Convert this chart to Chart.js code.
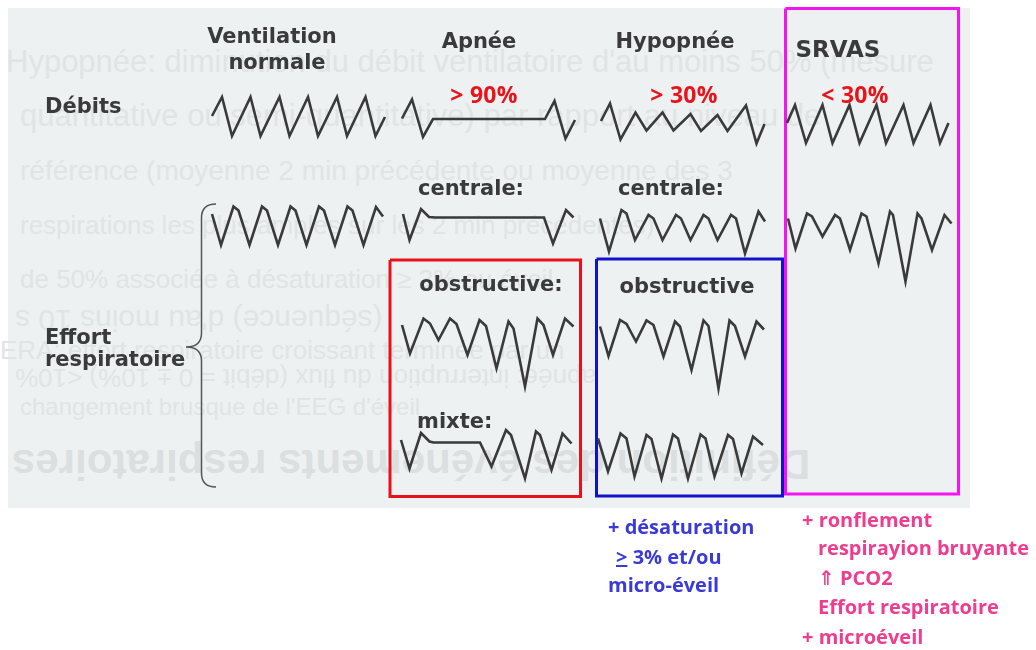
<!DOCTYPE html>
<html>
<head>
<meta charset="utf-8">
<script src="https://cdn.jsdelivr.net/npm/chart.js@4"></script>
<style>
body { margin: 0; background: #fff; width: 1036px; height: 650px; overflow: hidden; position: relative; }
#panel { position: absolute; left: 8px; top: 8px; width: 962px; height: 500px; background: #eef1f1; }
.ghost { position: absolute; color: #e1e4e4; font-family: "Liberation Sans", Arial, sans-serif; white-space: nowrap; line-height: 1; }
.lbl { position: absolute; white-space: nowrap; line-height: 1; }
.head { font: bold 21px "DejaVu Sans", sans-serif; color: #3a3a3a; }
.pct { font: bold 23px "Open Sans", sans-serif; color: #e8141c; letter-spacing: 0.3px; }
.blue { font: bold 20px "Open Sans", sans-serif; color: #3a3ad8; }
.pink { font: bold 20px "Open Sans", sans-serif; color: #ee3d8f; }
canvas { position: absolute; left: 0; top: 0; }
</style>
</head>
<body>
<div id="panel"></div>
<div id="ghosts"></div>
<canvas id="chart" width="1036" height="650"></canvas>
<div id="labels"></div>
<script>
// courbes : t = temps le long du tracé, v = amplitude (au-dessus de la ligne de base)
const flowNormalT = [1, 11, 21, 39.5, 49.5, 68.5, 78.5, 97, 107, 126, 136, 154.5, 164.5, 174];
const flowNormalV = [0, 19, -20, 19, -20, 19, -20, 19, -20, 19, -20, 19, -20, -1];

const flowApneaT = [0, 10, 21, 31, 143, 152.5, 163.5, 173];
const flowApneaV = [0.5, 19.5, -18, 0, 0, 18, -19.5, -1];

const flowHypoT = [0, 9, 19.5, 34.5, 45.5, 61.5, 72.5, 89.5, 100, 116.5, 126.5, 145, 155.5, 163.5];
const flowHypoV = [0, 17.5, -18.5, 8.5, -9.5, 8.5, -9.5, 7, -10, 6, -10, 15.5, -22.5, -3];

const flowSrvasT = [0, 8, 19, 35.5, 45.5, 62.5, 72.5, 89.5, 99, 116.5, 126.5, 143.5, 153, 161.5];
const flowSrvasV = [0, 18, -20, 18, -20, 18, -20, 18, -20, 18, -20, 18, -20, 0];

const effortNormalT = [0, 9, 21.5, 26.5, 37.5, 50, 55, 66, 78.5, 83.5, 94.5, 107, 112, 123, 135.5, 140.5, 151.5, 164, 171];
const effortNormalV = [12, -19, 19.5, 15.5, -19, 19.5, 15.5, -19, 19.5, 15.5, -19, 19.5, 15.5, -19, 19.5, 15.5, -19, 19, 9.5];

const effortApneaCentralT = [0, 6.5, 18, 26, 32, 141, 150, 163, 170.5];
const effortApneaCentralV = [3, -23, 8, 0, -0.5, -0.5, -26.5, 7, -0.5];

const effortHypoCentralT = [0, 9, 21.5, 26.5, 35, 48.5, 53.5, 62.5, 76, 81, 90.5, 103.5, 108.5, 117.5, 131, 136, 145, 158.5, 165];
const effortHypoCentralV = [6.5, -26.5, 15, 11.5, -15, 10, 6.5, -15, 10, 6.5, -15, 10, 6.5, -15, 10, 6.5, -28.5, 13.5, 3.5];

const effortSrvasT = [0, 7.5, 19, 24, 34.5, 47, 52, 62, 73.5, 78.5, 90.5, 102, 105, 117.5, 129.5, 133.5, 144, 156.5, 163.5];
const effortSrvasV = [6.5, -23.5, 11.5, 8.5, -11.5, 10, 6.5, -25, 11.5, 8.5, -38.5, 13.5, 10, -56.5, 11.5, 6.5, -25, 10, 1.5];

const effortApneaObstrT = [0, 8, 21.5, 28, 36.5, 48, 54.5, 65.5, 77.5, 84, 94.5, 106.5, 111.5, 123, 135.5, 141.5, 151, 163, 171.5];
const effortApneaObstrV = [8, -20.5, 14.5, 9.5, -7, 14.5, 9, -22, 13, 7, -35.5, 11.5, 4.5, -53.5, 14.5, 8, -22, 14.5, 6.5];

const effortApneaMixedT = [0, 8.5, 20, 28.5, 32.5, 79, 90.5, 105, 110, 124, 135, 139, 150.5, 161.5, 170.5];
const effortApneaMixedV = [3, -25.5, 10, 1.5, 0.5, 0.5, -23.5, 13, 8, -35.5, 11.5, 8, -27, 9.5, -0.5];

const effortHypoObstrT = [0, 8.5, 20, 26.5, 36, 46.5, 53.5, 63.5, 75, 80, 91.5, 103.5, 108.5, 118.5, 129.5, 135, 145, 156.5, 164];
const effortHypoObstrV = [6.5, -23, 13, 9, -8.5, 12.5, 8, -23.5, 11.5, 6.5, -37, 12.5, 7, -55.5, 12.5, 7, -23.5, 11.5, 3.5];

const effortHypoObstr2T = [0, 10, 22.5, 28.5, 36.5, 48.5, 53.5, 63.5, 75, 80, 90, 102.5, 107.5, 116.5, 130, 135, 143.5, 155, 165];
const effortHypoObstr2V = [16.5, -16.5, 21.5, 16.5, -21.5, 20, 16, -23.5, 20.5, 16.5, -23.5, 20.5, 16.5, -21.5, 20, 16, -18.5, 18.5, 10];

// placement des tracés (origine en pixels de page)
const traces = [
  { t: flowNormalT, v: flowNormalV, at: [211, 116] },
  { t: flowApneaT, v: flowApneaV, at: [402, 119] },
  { t: flowHypoT, v: flowHypoV, at: [601, 121] },
  { t: flowSrvasT, v: flowSrvasV, at: [787, 123] },
  { t: effortNormalT, v: effortNormalV, at: [212, 226] },
  { t: effortApneaCentralT, v: effortApneaCentralV, at: [403, 217] },
  { t: effortHypoCentralT, v: effortHypoCentralV, at: [600, 225] },
  { t: effortSrvasT, v: effortSrvasV, at: [788, 225] },
  { t: effortApneaObstrT, v: effortApneaObstrV, at: [402, 333] },
  { t: effortApneaMixedT, v: effortApneaMixedV, at: [401, 443] },
  { t: effortHypoObstrT, v: effortHypoObstrV, at: [600, 333] },
  { t: effortHypoObstr2T, v: effortHypoObstr2V, at: [598, 455] }
];

// cadres : [gauche, haut, droite, bas, couleur]
const frames = [
  [390, 260, 580.5, 496.5, '#e8101a'],
  [596.5, 259, 782.5, 496, '#1212c8'],
  [785.5, 8.5, 958.5, 494, '#f514f0']
];

const labels = [
  ['Ventilation', 272, 42, 'c', 'head'],
  ['normale', 277, 68, 'c', 'head'],
  ['Apnée', 479, 47, 'c', 'head'],
  ['Hypopnée', 675, 47, 'c', 'head'],
  ['SRVAS', 838, 55, 'c', 'head big'],
  ['Débits', 45, 112, 'l', 'head'],
  ['> 90%', 484, 99, 'c', 'pct'],
  ['> 30%', 684, 99, 'c', 'pct'],
  ['< 30%', 855, 99, 'c', 'pct'],
  ['centrale:', 471, 194, 'c', 'head'],
  ['centrale:', 671, 194, 'c', 'head'],
  ['obstructive:', 491, 290, 'c', 'head'],
  ['obstructive', 687, 292, 'c', 'head'],
  ['mixte:', 417, 427, 'l', 'head'],
  ['Effort', 45, 343, 'l', 'head'],
  ['respiratoire', 45, 365, 'l', 'head'],
  ['+ désaturation', 608, 532, 'l', 'blue'],
  ['<u>&gt;</u> 3% et/ou', 616, 562, 'l', 'blue'],
  ['micro-éveil', 608, 590, 'l', 'blue'],
  ['+ ronflement', 802, 525, 'l', 'pink'],
  ['respirayion bruyante', 818, 553, 'l', 'pink'],
  ['<span style="font-family:\'DejaVu Sans\'">&#8657;</span> PCO2', 818, 583, 'l', 'pink'],
  ['Effort respiratoire', 818, 612, 'l', 'pink'],
  ['+ microéveil', 802, 642, 'l', 'pink']
];

// texte du verso visible par transparence
const ghosts = [
  ["Hypopnée: diminution du débit ventilatoire d'au moins 50% (mesure", 6, 46, 31, false, false],
  ["quantitative ou semi-quantitative) par rapport au niveau de", 20, 100, 31, false, false],
  ["référence (moyenne 2 min précédente ou moyenne des 3", 20, 157, 28, false, false],
  ["respirations les plus amples sur les 2 min précédentes)", 20, 212, 26, false, false],
  ["de 50% associée à désaturation ≥ 3% ou éveil", 20, 266, 26, false, false],
  ["(séquence) d'au moins 10 s", 15, 305, 30, true, false],
  ["ERA: effort respiratoire croissant terminée par un", 0, 337, 26, false, false],
  ["apnée: interruption du flux (débit = 0 ± 10%) <10%", 15, 365, 26, true, false],
  ["changement brusque de l'EEG d'éveil", 20, 395, 24, false, false],
  ["Définition des événements respiratoires", 12, 443, 42, true, true]
];

const ghostBox = document.getElementById('ghosts');
ghosts.forEach(([txt, x, y, size, flipped, bold]) => {
  const d = document.createElement('div');
  d.className = 'ghost';
  d.textContent = txt;
  d.style.left = x + 'px';
  d.style.top = y + 'px';
  d.style.fontSize = size + 'px';
  if (bold) { d.style.fontWeight = 'bold'; d.style.color = '#dcdfdf'; }
  if (flipped) { d.style.transform = 'rotate(180deg)'; d.style.transformOrigin = '50% 50%'; }
  ghostBox.appendChild(d);
});

const lblBox = document.getElementById('labels');
labels.forEach(([html, x, base, align, cls]) => {
  const d = document.createElement('div');
  d.className = 'lbl ' + cls;
  d.innerHTML = html;
  const big = cls.indexOf('big') >= 0;
  if (big) d.style.fontSize = '23px';
  let fs = 20;
  if (cls.indexOf('head') >= 0) fs = big ? 23 : 21;
  if (cls === 'pct') fs = 23;
  const off = cls.indexOf('head') >= 0 ? 0.846 : 0.93;
  d.style.top = (base - off * fs) + 'px';
  d.style.left = x + 'px';
  if (align === 'c') d.style.transform = 'translateX(-50%)';
  lblBox.appendChild(d);
});

const datasets = traces.map(tr => ({
  data: tr.t.map((ti, i) => ({ x: tr.at[0] + ti, y: tr.at[1] - tr.v[i] })),
  borderColor: '#3a3a3a',
  borderWidth: 2.6,
  borderJoinStyle: 'miter',
  pointRadius: 0,
  tension: 0,
  fill: false
}));

frames.forEach(([l, t, r, b, col]) => {
  datasets.push({
    data: [{ x: l, y: t }, { x: r, y: t }, { x: r, y: b }, { x: l, y: b }, { x: l, y: t }],
    borderColor: col,
    borderWidth: 3,
    borderJoinStyle: 'miter',
    pointRadius: 0,
    tension: 0,
    fill: false
  });
});

// accolade "Effort respiratoire"
const braceTop = 204, braceMid = 347, braceBottom = 487, braceX = 201.5, braceTip = 186, braceEnd = 216;

const bracePlugin = {
  id: 'brace',
  afterDatasetsDraw(chart) {
    const { ctx, scales: { x, y } } = chart;
    const px = v => x.getPixelForValue(v), py = v => y.getPixelForValue(v);
    ctx.save();
    ctx.strokeStyle = '#555';
    ctx.lineWidth = 1.5;
    ctx.beginPath();
    ctx.moveTo(px(braceEnd), py(braceTop));
    ctx.quadraticCurveTo(px(braceX), py(braceTop), px(braceX), py(braceTop + 14));
    ctx.lineTo(px(braceX), py(braceMid - 14));
    ctx.quadraticCurveTo(px(braceX), py(braceMid), px(braceTip), py(braceMid));
    ctx.quadraticCurveTo(px(braceX), py(braceMid), px(braceX), py(braceMid + 14));
    ctx.lineTo(px(braceX), py(braceBottom - 14));
    ctx.quadraticCurveTo(px(braceX), py(braceBottom), px(braceEnd), py(braceBottom));
    ctx.stroke();
    ctx.restore();
  }
};

new Chart(document.getElementById('chart'), {
  type: 'line',
  data: { datasets },
  options: {
    responsive: false,
    animation: false,
    events: [],
    layout: { padding: 0 },
    plugins: { legend: { display: false }, tooltip: { enabled: false } },
    scales: {
      x: { type: 'linear', min: 0, max: 1036, display: false },
      y: { type: 'linear', min: 0, max: 650, reverse: true, display: false }
    }
  },
  plugins: [bracePlugin]
});
</script>
</body>
</html>
